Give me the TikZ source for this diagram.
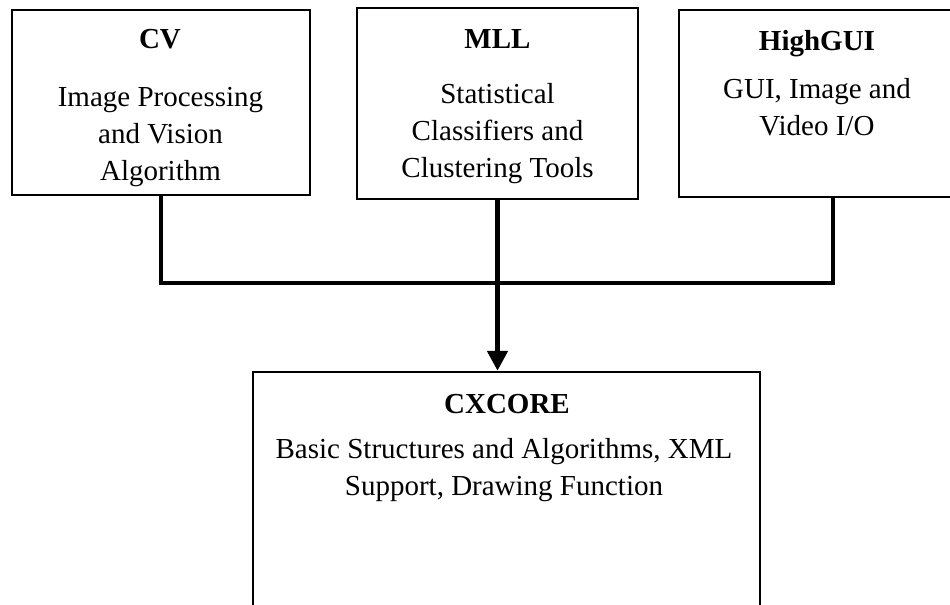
\documentclass[tikz,border=0pt]{standalone}
\usepackage{fontspec}
\setmainfont{Liberation Serif}
\usetikzlibrary{arrows.meta}
\begin{document}
\begin{tikzpicture}[x=0.5pt, y=-0.5pt, >={Triangle[length=10pt, width=10pt]},
        font=\fontsize{14.5}{18.3}\selectfont,
        modbox/.style={draw, line width=1.2pt, inner sep=0pt},
        ttl/.style={font=\fontsize{14.5}{18.3}\selectfont\bfseries, anchor=base},
        desc/.style={align=center, anchor=base},
        link/.style={line width=2.4pt}]
    \useasboundingbox (0,0) rectangle (950,605);
    % ---- modules ----
    \node[modbox, minimum width=149pt, minimum height=92.5pt] (cv) at (161,102.5) {};
    \node[modbox, minimum width=140.5pt, minimum height=95.5pt] (mll) at (497.5,103.5) {};
    \node[modbox, minimum width=138pt, minimum height=93.5pt] (hg) at (817,103.5) {};
    \node[modbox, minimum width=253.5pt, minimum height=140pt] (core) at (506.5,512) {};
    % ---- texts (base = last line) ----
    \node[ttl] (cvt) at (160,48) {CV};
    \node[desc] (cvd) at (160.5,180) {Image Processing\\and Vision\\Algorithm};
    \node[ttl] (mllt) at (497.5,48) {MLL};
    \node[desc] (mlld) at (497.5,177) {Statistical\\Classifiers and\\Clustering Tools};
    \node[ttl] (hgt) at (817,50) {HighGUI};
    \node[desc] (hgd) at (817,135) {GUI, Image and\\Video I/O};
    \node[ttl] (coret) at (507,413) {CXCORE};
    \node[desc] (cored) at (504,495) {Basic Structures and Algorithms, XML\\Support, Drawing Function};
    % ---- connectors ----
    \coordinate (busR) at (833,283);
    \draw[link] (cv.south) |- (busR) -- (busR |- hg.south);
    \draw[link, ->] (mll.south) -- (mll.south |- core.north);
\end{tikzpicture}
\end{document}
